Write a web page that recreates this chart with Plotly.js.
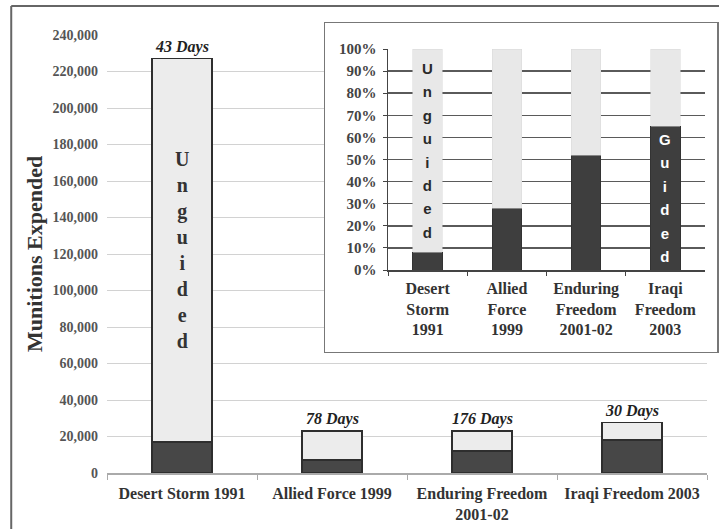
<!DOCTYPE html>
<html>
<head>
<meta charset="utf-8">
<script src="https://cdn.plot.ly/plotly-3.0.1.min.js"></script>
<style>html,body{margin:0;padding:0;background:#fff;}</style>
</head>
<body>
<div id="chart" style="width:719px;height:529px;"></div>
<script>
// ---- data ----
const campaigns = ['Desert Storm 1991', 'Allied Force 1999', 'Enduring Freedom<br>2001-02', 'Iraqi Freedom 2003'];
const guided = [17000, 7000, 12000, 18000];
const unguided = [210000, 16000, 11000, 9600];
const days = ['43 Days', '78 Days', '176 Days', '30 Days'];

const insetLabels = ['Desert<br>Storm<br>1991', 'Allied<br>Force<br>1999', 'Enduring<br>Freedom<br>2001-02', 'Iraqi<br>Freedom<br>2003'];
const guidedPct = [8, 28, 52, 65];
const unguidedPct = [92, 72, 48, 35];

const yTickVals = [0, 20000, 40000, 60000, 80000, 100000, 120000, 140000, 160000, 180000, 200000, 220000, 240000];

// ---- styles ----
const SERIF = 'Liberation Serif, Times New Roman, serif';
const SANS = 'Liberation Sans, Arial, sans-serif';
const DARK = '#474747';
const LIGHT = '#ececec';

const totals = guided.map((g, i) => g + unguided[i]);

const traces = [
  {type: 'bar', x: campaigns, y: guided, xaxis: 'x', yaxis: 'y', width: 0.4,
   marker: {color: DARK, line: {color: '#2e2e2e', width: 1.5}}, hoverinfo: 'skip'},
  {type: 'bar', x: campaigns, y: unguided, xaxis: 'x', yaxis: 'y', width: 0.4,
   marker: {color: LIGHT, line: {color: '#2e2e2e', width: 1.5}}, hoverinfo: 'skip'},
  {type: 'bar', x: insetLabels, y: guidedPct, xaxis: 'x3', yaxis: 'y3', width: 0.37,
   marker: {color: '#3e3e3e', line: {color: '#333', width: 1}}, hoverinfo: 'skip'},
  {type: 'bar', x: insetLabels, y: unguidedPct, xaxis: 'x3', yaxis: 'y3', width: 0.37,
   marker: {color: '#e8e8e8', line: {color: '#d8d8d8', width: 0.5}}, hoverinfo: 'skip'}
];

function vertical(word, span) {
  return word.split('').map(c => '<span style="font-size:' + span + 'px">' + c + '</span>').join('<br>');
}

const annotations = days.map((d, i) => ({
  xref: 'x', yref: 'y', x: campaigns[i], y: totals[i], text: d,
  yanchor: 'bottom', yshift: 1, showarrow: false,
  font: {family: SERIF, size: 16, weight: 'bold', style: 'italic', color: '#222'}
}));

annotations.push({
  xref: 'x', yref: 'y', x: campaigns[0], y: guided[0] + unguided[0] / 2,
  text: vertical('Unguided', 20), showarrow: false,
  font: {family: SERIF, size: 20, weight: 'bold', color: '#333'}
});
annotations.push({
  xref: 'x3', yref: 'y3', x: insetLabels[0], y: guidedPct[0] + unguidedPct[0] / 2,
  text: vertical('Unguided', 15), showarrow: false,
  font: {family: SANS, size: 18, weight: 'bold', color: '#2a2a2a'}
});
annotations.push({
  xref: 'x3', yref: 'y3', x: insetLabels[3], y: guidedPct[3] / 2,
  text: vertical('Guided', 15), showarrow: false,
  font: {family: SANS, size: 18, weight: 'bold', color: '#ffffff'}
});
annotations.push({
  xref: 'paper', yref: 'paper', x: -0.118, y: 0.4867, xanchor: 'center', yanchor: 'middle', textangle: -90,
  text: 'Munitions Expended', showarrow: false,
  font: {family: SERIF, size: 22, weight: 'bold', color: '#333'}
});

const layout = {
  width: 719, height: 529,
  margin: {l: 107, r: 2, t: 23, b: 56},
  paper_bgcolor: '#ffffff', plot_bgcolor: '#ffffff',
  showlegend: false, barmode: 'stack',
  xaxis: {
    domain: [0, 0.98361], anchor: 'y', type: 'category',
    tickson: 'boundaries', ticks: 'outside', ticklen: 5, tickcolor: '#aaa', ticklabelstandoff: 5,
    showline: true, linecolor: '#aaa', linewidth: 1.5, showgrid: false,
    tickfont: {family: SERIF, size: 16, weight: 'bold', color: '#333'}
  },
  yaxis: {
    domain: [0, 0.97333], anchor: 'x', range: [0, 240000],
    tickvals: yTickVals, tickformat: ',', showgrid: true, gridcolor: '#d2d2d2', gridwidth: 1,
    zeroline: false, showline: false, ticks: '', ticklabelstandoff: 8,
    tickfont: {family: SERIF, size: 14, weight: 'bold', color: '#555'}
  },
  xaxis2: {domain: [0.3574, 1.0], anchor: 'y2', range: [0, 1], showgrid: false, zeroline: false,
    showticklabels: false, ticks: '', showline: true, mirror: true, linecolor: '#777', linewidth: 1.5},
  yaxis2: {domain: [0.2689, 1.0], anchor: 'x2', range: [0, 1], showgrid: false, zeroline: false,
    showticklabels: false, ticks: '', showline: true, mirror: true, linecolor: '#777', linewidth: 1.5},
  xaxis3: {
    domain: [0.4607, 0.9803], anchor: 'y3', type: 'category',
    tickson: 'boundaries', ticks: 'outside', ticklen: 4, tickcolor: '#444', ticklabelstandoff: 3,
    showline: true, linecolor: '#444', linewidth: 1.5, showgrid: false,
    tickfont: {family: SERIF, size: 16, weight: 'bold', color: '#333'}
  },
  yaxis3: {
    domain: [0.4511, 0.9422], anchor: 'x3', range: [0, 100], dtick: 10, ticksuffix: '%',
    showgrid: true, gridcolor: '#5a5a5a', gridwidth: 1.5, zeroline: false,
    showline: true, linecolor: '#444', linewidth: 1.5, ticks: 'outside', ticklen: 4, tickcolor: '#444',
    ticklabelstandoff: 3,
    tickfont: {family: SERIF, size: 15, weight: 'bold', color: '#444'}
  },
  shapes: [
    {type: 'rect', xref: 'x2', yref: 'y2', x0: 0, x1: 1, y0: 0, y1: 1, layer: 'below',
     fillcolor: '#ffffff', line: {width: 0}},
    {type: 'line', xref: 'paper', yref: 'paper', x0: -0.157, x1: 1.2, y0: 1.0378, y1: 1.0378,
     line: {color: '#666', width: 2}},
    {type: 'line', xref: 'paper', yref: 'paper', x0: -0.157, x1: -0.157, y0: 1.0378, y1: -0.2,
     line: {color: '#666', width: 2}}
  ],
  annotations: annotations
};

Plotly.newPlot('chart', traces, layout, {displayModeBar: false, staticPlot: true});
</script>
</body>
</html>
